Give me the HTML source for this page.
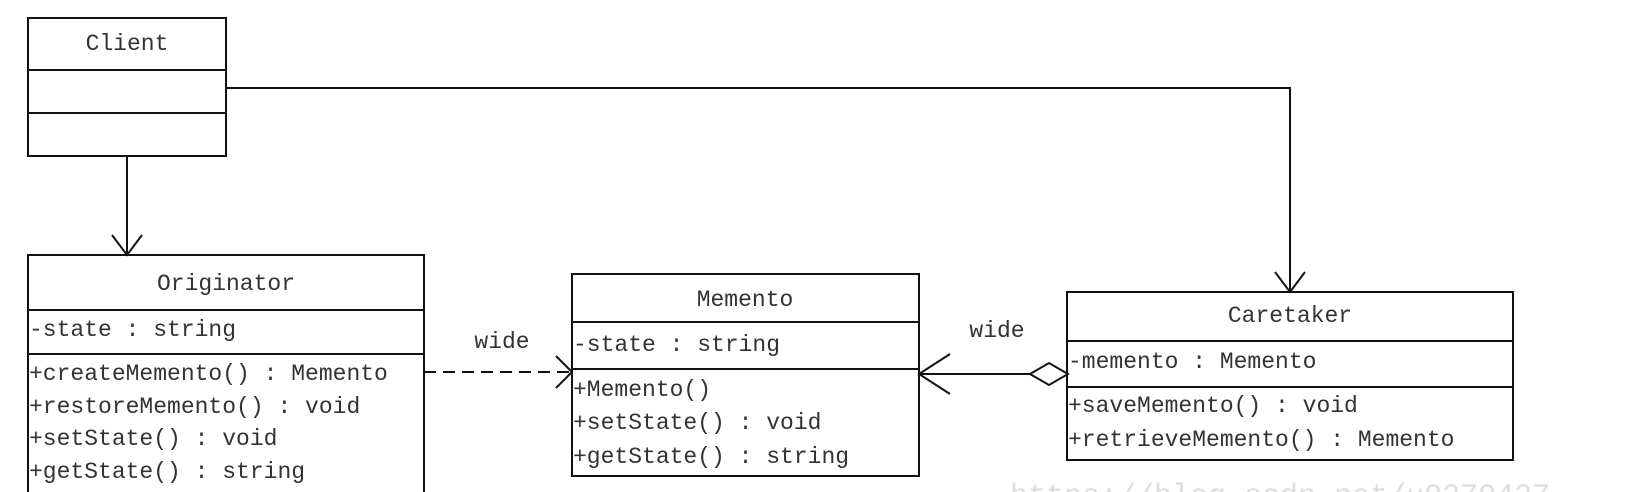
<!DOCTYPE html>
<html><head><meta charset="utf-8"><style>
html,body{margin:0;padding:0;background:#fff;width:1646px;height:492px;overflow:hidden}
svg{display:block}
text{font-family:"Liberation Mono","DejaVu Sans Mono",monospace;font-size:23px;fill:#333}
</style></head><body>
<svg width="1646" height="492" viewBox="0 0 1646 492" xmlns="http://www.w3.org/2000/svg">
<g fill="#fff" stroke="#111" stroke-width="2">
<rect x="28" y="18" width="198" height="138"/>
<line x1="28" y1="70" x2="226" y2="70"/>
<line x1="28" y1="113" x2="226" y2="113"/>
<rect x="28" y="255" width="396" height="260"/>
<line x1="28" y1="310" x2="424" y2="310"/>
<line x1="28" y1="354" x2="424" y2="354"/>
<rect x="572" y="274" width="347" height="202"/>
<line x1="572" y1="322" x2="919" y2="322"/>
<line x1="572" y1="369" x2="919" y2="369"/>
<rect x="1067" y="292" width="446" height="168"/>
<line x1="1067" y1="341" x2="1513" y2="341"/>
<line x1="1067" y1="387" x2="1513" y2="387"/>
</g>
<g fill="none" stroke="#111" stroke-width="2">
<polyline points="226,88 1290,88 1290,292"/>
<polyline points="1275,272 1290,292 1305,272"/>
<line x1="127" y1="156" x2="127" y2="255"/>
<polyline points="112,235 127,255 142,235"/>
<line x1="424" y1="372" x2="572" y2="372" stroke-dasharray="12,7"/>
<polyline points="556,356 572,372 556,388"/>
<line x1="919" y1="374" x2="1030" y2="374"/>
<polyline points="950,354 919,374 950,394"/>
<polygon points="1030,374 1049,363 1068,374 1049,385" fill="#fff"/>
</g>
<text x="127" y="50" text-anchor="middle">Client</text>
<text x="226" y="290" text-anchor="middle">Originator</text>
<text x="29" y="336">-state : string</text>
<text x="29" y="380">+createMemento() : Memento</text>
<text x="29" y="413">+restoreMemento() : void</text>
<text x="29" y="445">+setState() : void</text>
<text x="29" y="478">+getState() : string</text>
<text x="745" y="306" text-anchor="middle">Memento</text>
<text x="573" y="351">-state : string</text>
<text x="573" y="396">+Memento()</text>
<text x="573" y="429">+setState() : void</text>
<text x="573" y="463">+getState() : string</text>
<text x="1290" y="322" text-anchor="middle">Caretaker</text>
<text x="1068" y="368">-memento : Memento</text>
<text x="1068" y="412">+saveMemento() : void</text>
<text x="1068" y="446">+retrieveMemento() : Memento</text>
<text x="502" y="348" text-anchor="middle">wide</text>
<text x="997" y="337" text-anchor="middle">wide</text>
<text x="1010" y="504" style="fill:#ddd;font-size:30px">https://blog.csdn.net/u0270427</text>
</svg>
</body></html>
